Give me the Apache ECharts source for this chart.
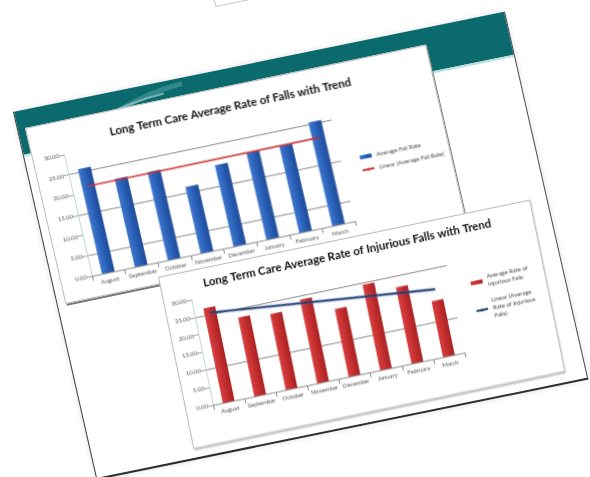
<!DOCTYPE html>
<html>
<head>
<meta charset="utf-8">
<script src="https://cdn.jsdelivr.net/npm/echarts@6/dist/echarts.min.js"></script>
<style>
  html, body { margin: 0; padding: 0; background: #fff; width: 590px; height: 477px; overflow: hidden; }
  .q { position: absolute; left: 0; top: 0; transform-origin: 0 0; }
  #slide { background: #fff; border-left: 1.5px solid #3c3c3c; border-right: 1.5px solid #4a4a4a; border-bottom: 2px solid #2e2e2e; box-shadow: 0 0 6px rgba(0,0,0,0.12); }
  #band { position: absolute; left: 0; top: 0; width: 100%; height: 44px; background: #0b6a6e; }
  #bandLine { position: absolute; left: 0; top: 44px; width: 100%; height: 2px; background: #bfe0df; }
  #tab { border: 1.5px solid #c9c9c9; background: #fff; }
  .chartBox { background: #fff; border: 1px solid #bdbdbd; }
  #c1 { box-shadow: 1px 2px 0 #777; }
  #c2 { box-shadow: 1px 1px 2px rgba(0,0,0,0.35); }
</style>
</head>
<body>
<div id="tab" class="q"></div>
<div id="slide" class="q">
  <div id="band"></div>
  <div id="bandLine"></div>
  <svg width="500" height="60" style="position:absolute;left:0;top:0">
    <path d="M60,44 C90,20 130,8 170,6" stroke="#4f9c9e" stroke-width="5" fill="none" opacity="0.6"/>
    <path d="M40,44 C70,24 110,14 150,12" stroke="#9fcfcf" stroke-width="2" fill="none" opacity="0.7"/>
  </svg>
</div>
<div id="c1" class="q chartBox"></div>
<div id="c2" class="q chartBox"></div>
<script>
// Monthly categories shared by both charts
const months = ['August', 'September', 'October', 'November', 'December', 'January', 'February', 'March'];

// Average fall rate per month and its linear trend (first and last month)
const fallRate = [25.9, 21.8, 21.8, 16.4, 20.1, 21.4, 21.4, 25.6];
const fallTrend = [21.4, 21.5];

// Average rate of injurious falls per month and its linear trend
const injuriousRate = [26.9, 22.4, 21.6, 23.8, 19.3, 24.3, 21.7, 15.9];
const injuriousTrend = [25.4, 19.0];

// Value axis ticks shared by both charts, and the gridlines each chart shows
const yTicks = [0, 5, 10, 15, 20, 25, 30];
const fallGridLevels = [5, 15, 25];
const injuriousGridLevels = [10, 25];

// Map a w x h box onto the page by its top-left, top-right and bottom-left corners
function place(id, w, h, tl, tr, bl) {
  const el = document.getElementById(id);
  el.style.width = w + 'px';
  el.style.height = h + 'px';
  const a = (tr[0] - tl[0]) / w, b = (tr[1] - tl[1]) / w;
  const c = (bl[0] - tl[0]) / h, d = (bl[1] - tl[1]) / h;
  el.style.transform = `matrix(${a},${b},${c},${d},${tl[0]},${tl[1]})`;
  return el;
}

place('tab', 60, 40, [206, -35], [265, -47], [215, 5]);
place('slide', 500, 374, [13, 112], [503, 12], [96, 478]);
const el1 = place('c1', 408, 178, [25, 128], [424, 45], [65, 302]);
const el2 = place('c2', 378, 173, [158, 277], [528, 200], [193, 447]);

const FONT = 'Lato, "Open Sans", sans-serif';

function trendData(ends) {
  return months.map((m, i) => i === 0 ? ends[0] : (i === months.length - 1 ? ends[1] : null));
}

function buildOption(cfg) {
  // one colour per tick, transparent where no gridline is drawn
  const gridColors = yTicks.map(t => cfg.gridLevels.includes(t) ? '#8a8a8a' : 'rgba(0,0,0,0)');
  return {
    animation: false,
    title: {
      text: cfg.title, left: 'center', top: cfg.titleTop,
      textStyle: { fontFamily: FONT, fontWeight: 'bold', fontSize: 11.5, color: '#111' }
    },
    legend: {
      orient: 'vertical', left: cfg.legendLeft, top: cfg.legendTop,
      itemGap: cfg.legendGap, itemWidth: 12, itemHeight: 4,
      textStyle: { fontFamily: FONT, fontSize: 6, color: '#444', lineHeight: 8 },
      data: [
        { name: cfg.barName, icon: 'rect' },
        { name: cfg.lineName }
      ]
    },
    grid: cfg.grid,
    xAxis: {
      type: 'category', data: months,
      axisLine: { lineStyle: { color: '#8a8a8a', width: 1 } },
      axisTick: { show: true, lineStyle: { color: '#8a8a8a' } },
      axisLabel: { fontFamily: FONT, fontSize: 6, color: '#555', margin: 5, interval: 0 }
    },
    yAxis: {
      type: 'value', min: yTicks[0], max: yTicks[yTicks.length - 1], interval: yTicks[1] - yTicks[0],
      axisLine: { show: true, lineStyle: { color: '#c4d8cf' } },
      axisTick: { show: true, lineStyle: { color: '#999' } },
      axisLabel: { fontFamily: FONT, fontSize: 6, color: '#555', margin: 5,
        formatter: v => v.toFixed(2) },
      splitLine: { show: true, lineStyle: { color: gridColors, width: 1 } }
    },
    series: [
      {
        name: cfg.barName, type: 'bar', data: cfg.values, barWidth: cfg.barWidth,
        itemStyle: { color: cfg.barColor }
      },
      {
        name: cfg.lineName, type: 'line', data: trendData(cfg.trend), connectNulls: true,
        symbol: 'none', lineStyle: cfg.lineStyle, itemStyle: { color: cfg.lineStyle.color }
      }
    ]
  };
}

const blueFill = new echarts.graphic.LinearGradient(0, 0, 1, 0, [
  { offset: 0, color: '#3f78cf' }, { offset: 0.5, color: '#2a5fb6' }, { offset: 1, color: '#1d4b98' }
]);
const redFill = new echarts.graphic.LinearGradient(0, 0, 1, 0, [
  { offset: 0, color: '#d94040' }, { offset: 0.5, color: '#c42e2e' }, { offset: 1, color: '#a82222' }
]);

const chart1 = echarts.init(el1, null, { renderer: 'canvas' });
chart1.setOption(buildOption({
  title: 'Long Term Care Average Rate of Falls with Trend', titleTop: 9,
  barName: 'Average Fall Rate', lineName: 'Linear (Average Fall Rate)',
  values: fallRate, trend: fallTrend, barWidth: 13, barColor: blueFill,
  gridLevels: fallGridLevels,
  lineStyle: { color: '#cc3333', width: 1.6 },
  grid: { left: 31, right: 108, top: 33, bottom: 21 },
  legendLeft: 313, legendTop: 87, legendGap: 5
}));

const chart2 = echarts.init(el2, null, { renderer: 'canvas' });
chart2.setOption(buildOption({
  title: 'Long Term Care Average Rate of Injurious Falls with Trend', titleTop: 3,
  barName: 'Average Rate of\nInjurious Falls', lineName: 'Linear (Average\nRate of Injurious\nFalls)',
  values: injuriousRate, trend: injuriousTrend, barWidth: 12, barColor: redFill,
  gridLevels: injuriousGridLevels,
  lineStyle: { color: '#1f3a6b', width: 1.8, shadowColor: 'rgba(90,130,200,0.7)', shadowBlur: 2 },
  grid: { left: 27, right: 94, top: 28, bottom: 38 },
  legendLeft: 298, legendTop: 56, legendGap: 8
}));
</script>
</body>
</html>
